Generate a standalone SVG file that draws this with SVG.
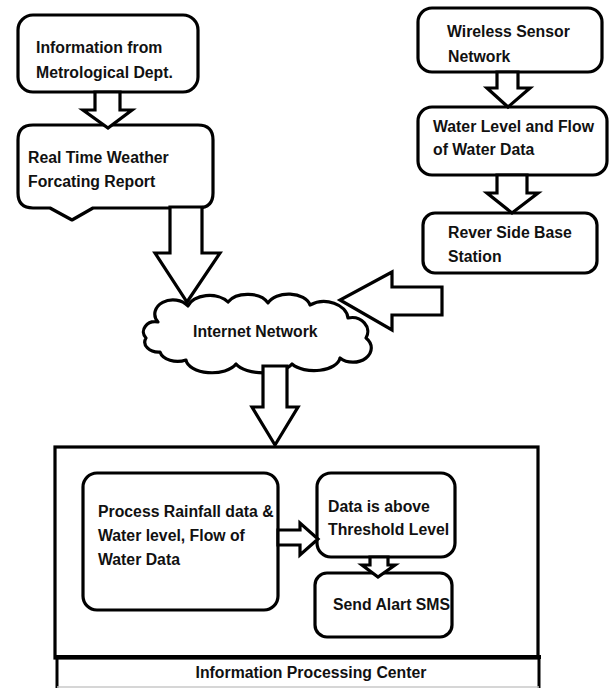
<svg xmlns="http://www.w3.org/2000/svg" width="613" height="688" viewBox="0 0 613 688">
<style>
.box{fill:#fff;stroke:#000;stroke-width:3.2;stroke-linejoin:round}
.arr{fill:#fff;stroke:#000;stroke-width:3.2;stroke-linejoin:miter}
text{font-family:"Liberation Sans",Arial,sans-serif;font-weight:bold;font-size:15.8px;fill:#111}
</style>
<rect width="613" height="688" fill="#fff"/>
<g id="center">
<rect x="55" y="447" width="483" height="211" fill="#fff" stroke="#000" stroke-width="3.2"/>
<line x1="55" y1="657" x2="541" y2="657" stroke="#000" stroke-width="4"/>
<line x1="57" y1="657" x2="57" y2="688" stroke="#000" stroke-width="3"/>
<line x1="539" y1="657" x2="539" y2="688" stroke="#000" stroke-width="3"/>
<line x1="57" y1="687" x2="539" y2="687" stroke="#c8c8c8" stroke-width="1.5"/>
<text x="311" y="678" text-anchor="middle">Information Processing Center</text>
</g>
<g id="met">
<rect class="box" x="18" y="15" width="180" height="77" rx="15"/>
<text x="36" y="53">Information from</text>
<text x="36" y="78">Metrological Dept.</text>
</g>
<g id="weather">
<path class="box" d="M33 125 H198 Q213 125 213 140 V193 Q213 208 198 208 H93 L72 220 L50 208 H33 Q18 208 18 193 V140 Q18 125 33 125 Z"/>
<text x="28" y="163">Real Time Weather</text>
<text x="28" y="187">Forcating Report</text>
</g>
<g id="wsn">
<rect class="box" x="418" y="8" width="184" height="64" rx="14"/>
<text x="447" y="37">Wireless Sensor</text>
<text x="448" y="62">Network</text>
</g>
<g id="water">
<rect class="box" x="418" y="107" width="189" height="68" rx="14"/>
<text x="433" y="132">Water Level and Flow</text>
<text x="433" y="155">of Water Data</text>
</g>
<g id="station">
<rect class="box" x="423" y="213" width="174" height="60" rx="12"/>
<text x="448" y="238">Rever Side Base</text>
<text x="448" y="262">Station</text>
</g>
<g id="internet">
<path class="box" stroke-width="3.5" d="M158 322 A18 14 0 0 1 188 306 A22 14 0 0 1 228 302 A22 14 0 0 1 268 303 A22 14 0 0 1 310 305 A24 18 0 0 1 348 318 A16 14 0 0 1 366 338 A18 14 0 0 1 340 358 A26 14 0 0 1 292 364 A30 14 0 0 1 236 364 A26 14 0 0 1 186 360 A18 12 0 0 1 160 352 A14 10 0 0 1 146 338 A12 10 0 0 1 158 322 Z"/>
<text x="193" y="337" font-size="16.6">Internet Network</text>
</g>
<g id="process">
<rect class="box" x="83" y="473" width="195" height="137" rx="14"/>
<text x="98" y="517">Process Rainfall data &amp;</text>
<text x="98" y="541">Water level, Flow of</text>
<text x="98" y="565">Water Data</text>
</g>
<g id="threshold">
<rect class="box" x="317" y="473" width="138" height="84" rx="14"/>
<text x="328" y="512">Data is above</text>
<text x="328" y="535">Threshold Level</text>
</g>
<g id="sms">
<rect class="box" x="315" y="573" width="137" height="64" rx="12"/>
<text x="333" y="610">Send Alart SMS</text>
</g>
<g id="connectors">
<polygon class="arr" points="95,92 120,92 120,110 132,110 108,128 83,110 95,110"/>
<polygon class="arr" points="497,72 518,72 518,88 530,88 508,107 487,88 497,88"/>
<polygon class="arr" points="497,175 527,175 527,193 538,193 512,213 487,193 497,193"/>
<polygon class="arr" points="170,207 202,207 202,253 220,253 187,302 155,253 170,253"/>
<polygon class="arr" points="442,287 442,315 392,315 392,330 340,300 392,272 392,287"/>
<polygon class="arr" points="263,366 287,366 287,407 298,407 275,445 252,407 263,407"/>
<polygon class="arr" points="278,530 300,530 300,523 318,539 300,555 300,545 278,545"/>
<polygon class="arr" points="370,557 388,557 388,565 395,565 378,577 362,565 370,565"/>
</g>
</svg>
